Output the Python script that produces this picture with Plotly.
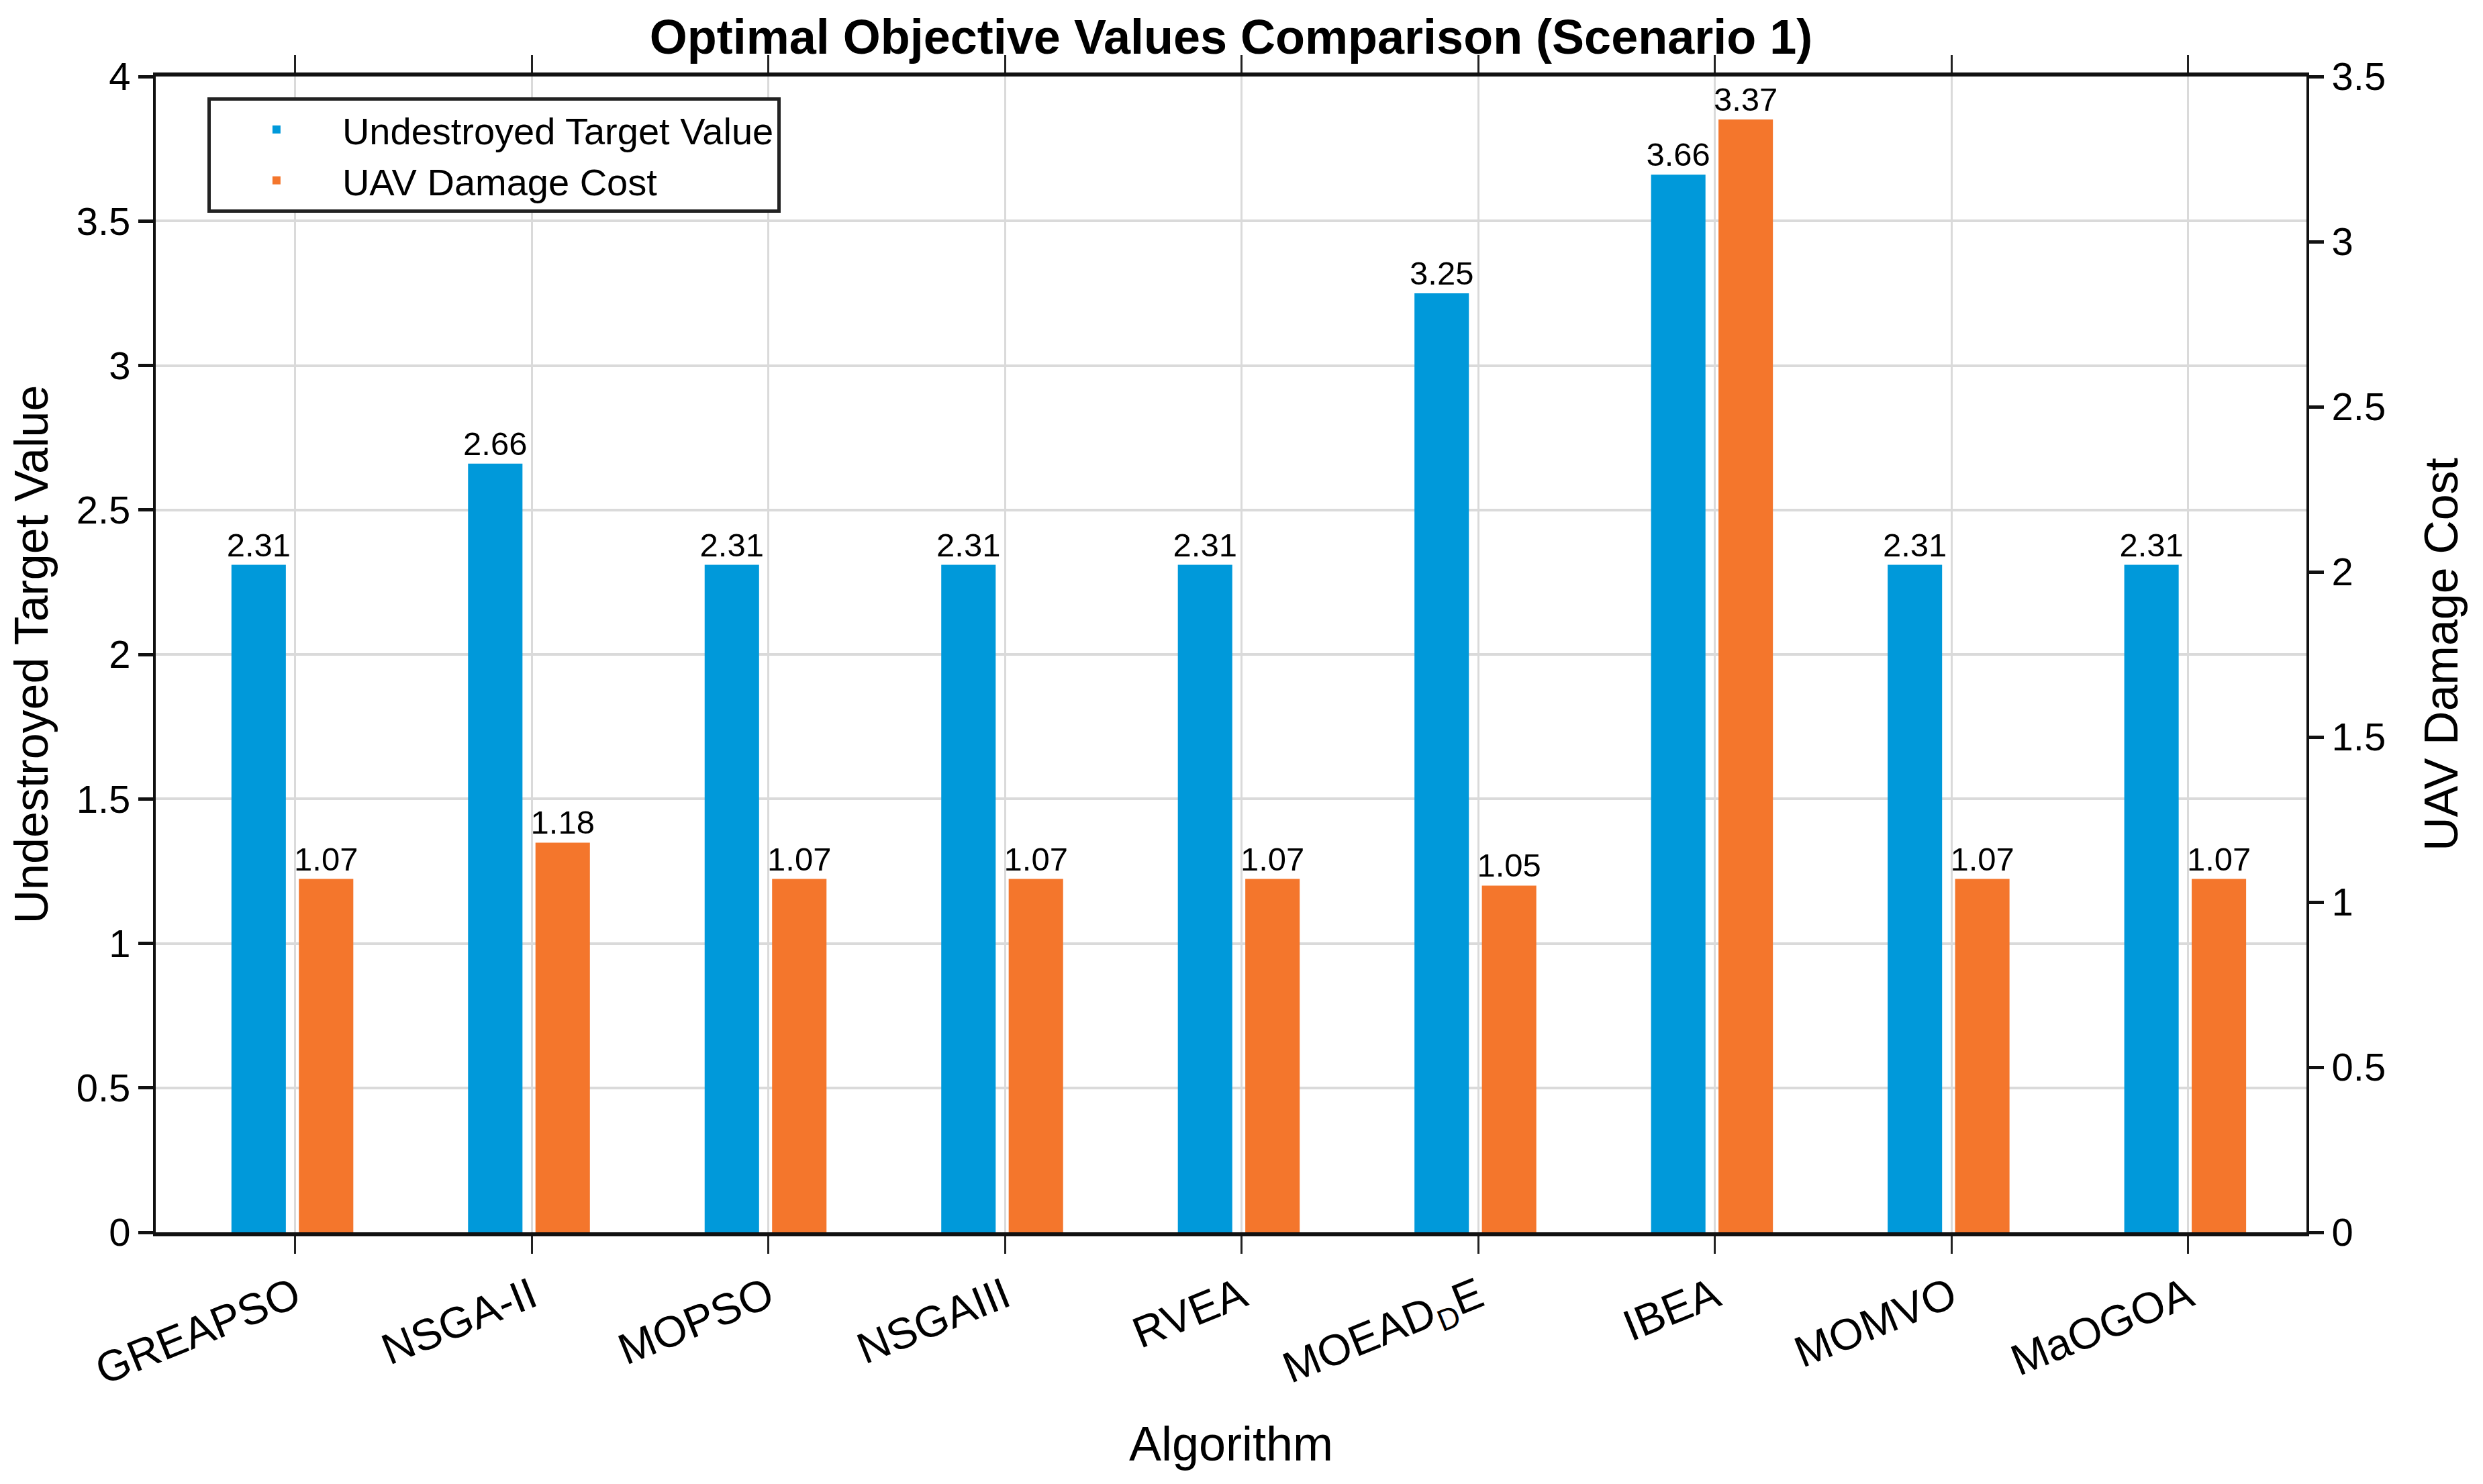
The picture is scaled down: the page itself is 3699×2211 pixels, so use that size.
import plotly.graph_objects as go

categories = ["GREAPSO", "NSGA-II", "MOPSO", "NSGAIII", "RVEA",
              "MOEAD<sub>D</sub>E", "IBEA", "MOMVO", "MaOGOA"]
undestroyed = [2.31, 2.66, 2.31, 2.31, 2.31, 3.25, 3.66, 2.31, 2.31]
damage_cost = [1.07, 1.18, 1.07, 1.07, 1.07, 1.05, 3.37, 1.07, 1.07]
left_ticks = [0, 0.5, 1, 1.5, 2, 2.5, 3, 3.5, 4]
right_ticks = [0, 0.5, 1, 1.5, 2, 2.5, 3, 3.5]

BLUE = "#0099DA"
ORANGE = "#F4762C"
FONT = "Liberation Sans, Arial, Helvetica, sans-serif"

fig = go.Figure()
fig.add_trace(go.Bar(
    x=categories, y=undestroyed, name="Undestroyed Target Value",
    marker=dict(color=BLUE, line=dict(width=0)),
    offset=-0.27, width=0.23, yaxis="y",
    text=[f"{v:.2f}" for v in undestroyed], textposition="outside",
    textfont=dict(size=49, color="black", family=FONT), constraintext="none",
    cliponaxis=False,
))
fig.add_trace(go.Bar(
    x=categories, y=damage_cost, name="UAV Damage Cost",
    marker=dict(color=ORANGE, line=dict(width=0)),
    offset=0.015, width=0.23, yaxis="y2",
    text=[f"{v:.2f}" for v in damage_cost], textposition="outside",
    textfont=dict(size=49, color="black", family=FONT), constraintext="none",
    cliponaxis=False,
))

fig.update_layout(
    width=3699, height=2211,
    paper_bgcolor="white", plot_bgcolor="white",
    font=dict(family=FONT, color="black", size=58),
    margin=dict(l=224, r=271, t=106, b=383),
    barmode="overlay",
    title=dict(text="<b>Optimal Objective Values Comparison (Scenario 1)</b>",
               x=0.5, xref="paper", y=0.979, yanchor="middle",
               font=dict(size=72, family=FONT, color="black")),
    showlegend=True,
    legend=dict(x=0.024, y=0.982, xanchor="left", yanchor="top",
                bgcolor="white", bordercolor="#222222", borderwidth=5,
                font=dict(size=56, family=FONT, color="black"),
                tracegroupgap=0, itemwidth=186),
    xaxis=dict(
        type="category", categoryorder="array", categoryarray=categories,
        range=[-0.59, 8.5],
        tickangle=-22, ticks="outside", ticklen=26, tickwidth=3, tickcolor="#222",
        showline=True, linecolor="#111", linewidth=6, mirror="ticks",
        showgrid=True, gridcolor="#DADADA", gridwidth=3,
        tickfont=dict(size=65, family=FONT),
        title=dict(text="Algorithm", font=dict(size=72, family=FONT), standoff=45),
        zeroline=False,
    ),
    yaxis=dict(
        range=[0, 4], tickvals=left_ticks, ticktext=[f"{t:g}" for t in left_ticks],
        ticks="outside", ticklen=22, tickwidth=5, tickcolor="#111",
        showline=True, linecolor="#111", linewidth=4,
        showgrid=True, gridcolor="#DADADA", gridwidth=4,
        tickfont=dict(size=58, family=FONT),
        title=dict(text="Undestroyed Target Value", font=dict(size=70, family=FONT), standoff=28),
        zeroline=False,
    ),
    yaxis2=dict(
        range=[0, 3.5], tickvals=right_ticks, ticktext=[f"{t:g}" for t in right_ticks],
        overlaying="y", side="right",
        ticks="outside", ticklen=22, tickwidth=5, tickcolor="#111",
        showline=True, linecolor="#111", linewidth=4,
        showgrid=False,
        tickfont=dict(size=58, family=FONT),
        title=dict(text="UAV Damage Cost", font=dict(size=70, family=FONT), standoff=60),
        zeroline=False,
    ),
)

fig.write_html("out.html")
